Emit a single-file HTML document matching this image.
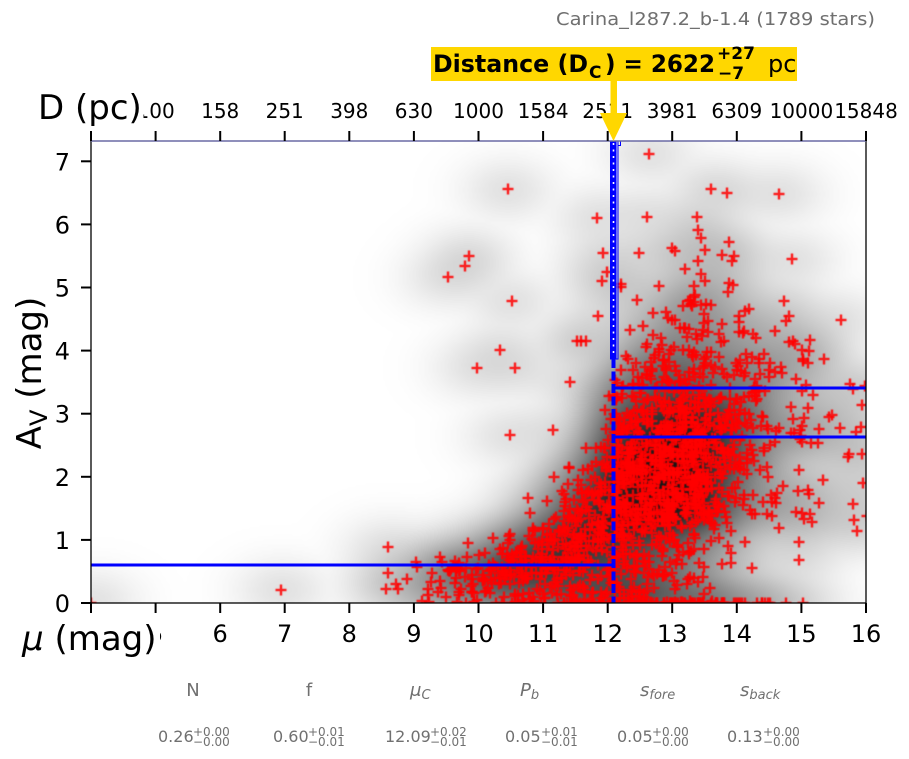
<!DOCTYPE html>
<html><head><meta charset="utf-8">
<style>
html,body{margin:0;padding:0;background:#fff;}
#wrap{position:relative;width:909px;height:759px;overflow:hidden;background:#fff;font-family:"DejaVu Sans","Liberation Sans",sans-serif;}
#c{position:absolute;left:91px;top:141px;}
#s{position:absolute;left:0;top:0;}
</style></head><body><div id="wrap">
<canvas id="c" width="775" height="462"></canvas>
<svg id="s" width="909" height="759" viewBox="0 0 909 759" xmlns="http://www.w3.org/2000/svg" font-family="DejaVu Sans, Liberation Sans, sans-serif">
<!-- blue model lines -->
<line x1="91" y1="565" x2="613" y2="565" stroke="#0000ff" stroke-width="3"/>
<line x1="615" y1="388" x2="866" y2="388" stroke="#0000ff" stroke-width="3"/>
<line x1="615" y1="437" x2="866" y2="437" stroke="#0000ff" stroke-width="3"/>
<rect x="610.5" y="141" width="7.5" height="218" fill="rgba(200,200,255,0.5)" stroke="#0000ff" stroke-width="1"/>
<rect x="610.5" y="141" width="6" height="218" fill="#0000ff"/>
<line x1="613.5" y1="143" x2="613.5" y2="357" stroke="#ffffff" stroke-width="1.6" stroke-dasharray="2 4.5"/>
<path d="M618 141 L618 145.5 L620.5 145.5 L620.5 141" fill="none" stroke="#0000ff" stroke-width="1"/>
<line x1="613.5" y1="359" x2="613.5" y2="603" stroke="#0000ff" stroke-width="4" stroke-dasharray="9 3.5"/>
<!-- frame -->
<rect x="91" y="141" width="775" height="462" fill="none" stroke="#000" stroke-width="1.3"/>
<line x1="91" y1="141" x2="866" y2="141" stroke="#7a7ac0" stroke-width="1.3"/>
<!-- ticks -->
<g stroke="#000" stroke-width="2">
<line x1="91" y1="603" x2="91" y2="613"/><line x1="155.6" y1="603" x2="155.6" y2="613"/><line x1="220.2" y1="603" x2="220.2" y2="613"/><line x1="284.7" y1="603" x2="284.7" y2="613"/><line x1="349.3" y1="603" x2="349.3" y2="613"/><line x1="413.9" y1="603" x2="413.9" y2="613"/><line x1="478.5" y1="603" x2="478.5" y2="613"/><line x1="543.1" y1="603" x2="543.1" y2="613"/><line x1="607.7" y1="603" x2="607.7" y2="613"/><line x1="672.2" y1="603" x2="672.2" y2="613"/><line x1="736.8" y1="603" x2="736.8" y2="613"/><line x1="801.4" y1="603" x2="801.4" y2="613"/><line x1="866" y1="603" x2="866" y2="613"/>
<line x1="91" y1="131" x2="91" y2="141"/><line x1="155.6" y1="131" x2="155.6" y2="141"/><line x1="220.2" y1="131" x2="220.2" y2="141"/><line x1="284.7" y1="131" x2="284.7" y2="141"/><line x1="349.3" y1="131" x2="349.3" y2="141"/><line x1="413.9" y1="131" x2="413.9" y2="141"/><line x1="478.5" y1="131" x2="478.5" y2="141"/><line x1="543.1" y1="131" x2="543.1" y2="141"/><line x1="607.7" y1="131" x2="607.7" y2="141"/><line x1="672.2" y1="131" x2="672.2" y2="141"/><line x1="736.8" y1="131" x2="736.8" y2="141"/><line x1="801.4" y1="131" x2="801.4" y2="141"/><line x1="866" y1="131" x2="866" y2="141"/>
<line x1="81" y1="603" x2="91" y2="603"/><line x1="81" y1="539.9" x2="91" y2="539.9"/><line x1="81" y1="476.8" x2="91" y2="476.8"/><line x1="81" y1="413.7" x2="91" y2="413.7"/><line x1="81" y1="350.6" x2="91" y2="350.6"/><line x1="81" y1="287.5" x2="91" y2="287.5"/><line x1="81" y1="224.4" x2="91" y2="224.4"/><line x1="81" y1="161.3" x2="91" y2="161.3"/>
</g>
<!-- bottom tick labels -->
<g font-size="24" text-anchor="middle" fill="#000">
<text x="91" y="642">4</text><text x="155.6" y="642">5</text><text x="220.2" y="642">6</text><text x="284.7" y="642">7</text><text x="349.3" y="642">8</text><text x="413.9" y="642">9</text><text x="478.5" y="642">10</text><text x="543.1" y="642">11</text><text x="607.7" y="642">12</text><text x="672.2" y="642">13</text><text x="736.8" y="642">14</text><text x="801.4" y="642">15</text><text x="866" y="642">16</text>
</g>
<!-- top tick labels -->
<g font-size="20" text-anchor="middle" fill="#000">
<text x="91" y="118">63</text><text x="155.6" y="118">100</text><text x="220.2" y="118">158</text><text x="284.7" y="118">251</text><text x="349.3" y="118">398</text><text x="413.9" y="118">630</text><text x="478.5" y="118">1000</text><text x="543.1" y="118">1584</text><text x="607.7" y="118">2511</text><text x="672.2" y="118">3981</text><text x="736.8" y="118">6309</text><text x="801.4" y="118">10000</text><text x="866" y="118">15848</text>
</g>
<!-- y tick labels -->
<g font-size="24" text-anchor="end" fill="#000">
<text x="70" y="612">0</text><text x="70" y="548.9">1</text><text x="70" y="485.8">2</text><text x="70" y="422.7">3</text><text x="70" y="359.6">4</text><text x="70" y="296.5">5</text><text x="70" y="233.4">6</text><text x="70" y="170.3">7</text>
</g>
<!-- axis labels with white boxes -->
<rect x="28" y="86" width="119" height="28.5" fill="#fff"/>
<rect x="28" y="114" width="115.5" height="14" fill="#fff"/>
<text x="38" y="119" font-size="34" fill="#000">D (pc)</text>
<rect x="16" y="616" width="144" height="46" fill="#fff"/>
<text x="22" y="650" font-size="34" fill="#000"><tspan font-style="italic">μ</tspan> (mag)</text>
<text transform="translate(41,373) rotate(-90)" text-anchor="middle" font-size="34" fill="#000">A<tspan font-size="24" dy="6">V</tspan><tspan dy="-6"> (mag)</tspan></text>
<!-- title -->
<text x="556" y="25" font-size="18" fill="#6f6f6f" textLength="319" lengthAdjust="spacingAndGlyphs">Carina_l287.2_b-1.4 (1789 stars)</text>
<!-- yellow annotation -->
<rect x="431" y="47" width="366" height="34" fill="#FFD700"/>
<rect x="610.5" y="81" width="6.5" height="33" fill="#FFD700"/>
<polygon points="600,113 627,113 613.5,141" fill="#FFD700"/>
<g font-weight="bold" fill="#000">
<text x="433" y="72" font-size="24" textLength="155" lengthAdjust="spacingAndGlyphs">Distance (D</text>
<text x="589" y="78" font-size="17">C</text>
<text x="605" y="72" font-size="24" textLength="110" lengthAdjust="spacingAndGlyphs">) = 2622</text>
<text x="717" y="59" font-size="17">+27</text>
<text x="718" y="79" font-size="17">−7</text>
</g>
<text x="768" y="72" font-size="24" fill="#000">pc</text>
<!-- parameter labels -->
<g fill="#707070" font-size="18">
<text x="193" y="696" text-anchor="middle">N</text>
<text x="309" y="696" text-anchor="middle">f</text>
<text x="410" y="696"><tspan font-style="italic">μ</tspan><tspan font-style="italic" font-size="13" dy="3">C</tspan></text>
<text x="520" y="696"><tspan font-style="italic">P</tspan><tspan font-style="italic" font-size="13" dy="3">b</tspan></text>
<text x="640" y="696"><tspan font-style="italic">s</tspan><tspan font-style="italic" font-size="13" dy="3">fore</tspan></text>
<text x="740" y="696"><tspan font-style="italic">s</tspan><tspan font-style="italic" font-size="13" dy="3">back</tspan></text>
</g>
<!-- parameter values -->
<g fill="#707070">
<text x="158" y="742" font-size="16">0.26</text><text x="193" y="736" font-size="12">+0.00</text><text x="193" y="746" font-size="12">−0.00</text>
<text x="273" y="742" font-size="16">0.60</text><text x="308" y="736" font-size="12">+0.01</text><text x="308" y="746" font-size="12">−0.01</text>
<text x="385" y="742" font-size="16">12.09</text><text x="430" y="736" font-size="12">+0.02</text><text x="430" y="746" font-size="12">−0.01</text>
<text x="505" y="742" font-size="16">0.05</text><text x="541" y="736" font-size="12">+0.01</text><text x="541" y="746" font-size="12">−0.01</text>
<text x="617" y="742" font-size="16">0.05</text><text x="652" y="736" font-size="12">+0.00</text><text x="652" y="746" font-size="12">−0.00</text>
<text x="727" y="742" font-size="16">0.13</text><text x="763" y="736" font-size="12">+0.00</text><text x="763" y="746" font-size="12">−0.00</text>
</g>
</svg>
</div>
<script>
(function(){
function mulberry32(a){return function(){a|=0;a=a+0x6D2B79F5|0;var t=Math.imul(a^a>>>15,1|a);t=t+Math.imul(t^t>>>7,61|t)^t;return((t^t>>>14)>>>0)/4294967296;};}
var R=mulberry32(20240607);
function N(){var u=1-R(),v=R();return Math.sqrt(-2*Math.log(u))*Math.cos(2*Math.PI*v);}
function px(mu){return (mu-4)*64.583;}
function py(av){return 462-av*63.1;}
var P=[];var i,mu,av,e;
// main cluster
for(i=0;i<1150;i++){
  if(R()<0.6) mu=12.09+Math.abs(N())*1.1; else mu=13.3+N()*0.75;
  if(mu<12.09) mu=12.09+(12.09-mu)*0.5;
  av=2.1+0.45*(mu-12.9)+N()*1.0;
  if(av<0){ if(R()<0.5) av=0; else av=-av*0.3; }
  P.push([px(mu),py(av)]);
}
// foreground
var cnt=0;
while(cnt<450){
  mu=12.09-Math.abs(N())*1.2;
  if(mu<8.5) continue;
  e=Math.exp((mu-12.09)*1.1);
  av=0.3+1.3*e+N()*(0.2+0.7*e);
  if(av<0){ if(R()<0.35) av=0; else av=-av*0.5; }
  P.push([px(mu),py(av)]);cnt++;
}
// zero row
for(i=0;i<70;i++){mu=12.9+N()*1.1; if(mu<10.3)mu=10.3+R(); if(mu>15.1)mu=15.1-R(); P.push([px(mu),py(0)]);}
// upper sparse
for(i=0;i<40;i++){mu=13.2+N()*0.8; if(mu<11.8)mu=11.8+R()*0.5; if(mu>15.5)mu=15.5-R()*0.5; av=4.2+Math.abs(N())*0.9; P.push([px(mu),py(av)]);}
// right sparse
for(i=0;i<30;i++){mu=14.8+Math.abs(N())*0.6; if(mu>16.05)mu=15.6+R()*0.4; av=2.2+N()*0.9; if(av<0)av=-av; P.push([px(mu),py(av)]);}
// hardcoded outliers (page pixel coords)
var H=[[91,603],[281,590],[388,547],[388,573],[468,543],[455,561],[417,567],[432,573],[450,571],[407,579],[398,589],[428,589],[438,592],[429,602],[457,602],
[649,154],[508,189],[727,193],[779,194],[597,218],[698,230],[792,259],[469,256],[465,266],[448,277],[603,253],[639,253],[672,248],[675,251],[705,250],
[512,301],[500,350],[477,368],[515,368],[577,341],[581,341],[586,341],[570,382],[510,435],[553,430],[856,432],[849,454],[862,454],[863,483],[823,480],[802,513]];
for(i=0;i<H.length;i++)P.push([H[i][0]-91,H[i][1]-141]);

var cv=document.getElementById('c');var ctx=cv.getContext('2d');
// KDE on 2px grid
var GW=388,GH=231;var g=new Float32Array(GW*GH);
for(i=0;i<P.length;i++){var gx=Math.floor(P[i][0]/2),gy=Math.floor(P[i][1]/2);if(gx<0)gx=0;if(gx>=GW)gx=GW-1;if(gy<0)gy=0;if(gy>=GH)gy=GH-1;g[gy*GW+gx]+=1;}
function kern(s,r){var k=[],t=0;for(var j=-r;j<=r;j++){var v=Math.exp(-j*j/(2*s*s));k.push(v);t+=v;}for(j=0;j<k.length;j++)k[j]/=t;return k;}
var RX=60,RY=40;
var kx=kern(11,RX),ky=kern(7.5,RY);
var t1=new Float32Array(GW*GH);var x,y,j,s;
for(y=0;y<GH;y++)for(x=0;x<GW;x++){s=0;for(j=-RX;j<=RX;j++){var xx=x+j;if(xx<0||xx>=GW)continue;s+=g[y*GW+xx]*kx[j+RX];}t1[y*GW+x]=s;}
var t2=new Float32Array(GW*GH);var mx=0;
for(y=0;y<GH;y++)for(x=0;x<GW;x++){s=0;for(j=-RY;j<=RY;j++){var yy=y+j;if(yy<0||yy>=GH)continue;s+=t1[yy*GW+x]*ky[j+RY];}t2[y*GW+x]=s;if(s>mx)mx=s;}
var off=document.createElement('canvas');off.width=GW;off.height=GH;var oc=off.getContext('2d');
var img=oc.createImageData(GW,GH);
for(i=0;i<GW*GH;i++){var v=255-235*Math.pow(t2[i]/mx,0.45);if(v<0)v=0;v=Math.round(v);img.data[i*4]=v;img.data[i*4+1]=v;img.data[i*4+2]=v;img.data[i*4+3]=255;}
oc.putImageData(img,0,0);
ctx.imageSmoothingEnabled=true;
ctx.drawImage(off,0,0,776,462);
// markers
ctx.strokeStyle='rgba(255,0,0,0.85)';ctx.lineWidth=2.5;
for(i=0;i<P.length;i++){var cx=Math.round(P[i][0]),cy=Math.round(P[i][1]);
ctx.beginPath();ctx.moveTo(cx-5.5,cy);ctx.lineTo(cx+5.5,cy);ctx.moveTo(cx,cy-5.5);ctx.lineTo(cx,cy+5.5);ctx.stroke();}
})();
</script>
</body></html>
